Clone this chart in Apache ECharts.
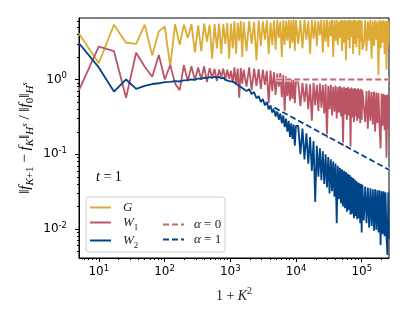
<!DOCTYPE html>
<html>
<head>
<meta charset="utf-8">
<script src="https://cdn.jsdelivr.net/npm/echarts@6/dist/echarts.min.js"></script>
<style>
	html, body { margin: 0; padding: 0; background: #fff; }
	#chart { width: 407px; height: 327px; }
</style>
</head>
<body>
<div id="chart"></div>
<script type="text/javascript">
	// K values (x = 1 + K^2), denser sampling where the curves are dense
	var K = [
		2, 3, 4, 5, 6, 7, 8, 9, 10, 11, 12, 13, 14, 15, 16, 17, 18, 19, 20, 21, 22, 23, 24, 25, 26, 27, 28, 29, 30, 31, 32, 33, 34, 35, 36, 37, 38, 39, 40,
		42, 44, 46, 48, 50, 52, 54, 56, 58, 60, 62, 64, 66, 68, 70, 72, 74, 76, 78, 80, 82, 84, 86, 88, 90, 92, 94, 96, 98, 100,
		104, 108, 112, 116, 120, 124, 128, 132, 136, 140, 144, 148, 152, 156, 160, 164, 168, 172, 176, 180, 184, 188, 192, 196, 200,
		204, 208, 212, 216, 220, 224, 228, 232, 236, 240, 244, 248, 252, 256, 260, 264, 268, 272, 276, 280, 284, 288, 292, 296, 300,
		304, 308, 312, 316, 320,
		328, 336, 344, 352, 360, 368, 376, 384, 392, 400, 408, 416, 424, 432, 440, 448, 456, 464, 472, 480, 488, 496, 504, 509
	];

	var gVals = [
		4.1, 1.65, 5.4, 3.1, 3.0, 5.4, 2.1, 4.4, 5.1, 1.5,
		5.5, 2.9, 5.4, 3.6, 5.5, 2.3, 5.3, 2.4, 5.6, 3.2,
		5.4, 1.9, 5.5, 2.6, 5.6, 2.2, 5.5, 3.0, 5.7, 1.9,
		5.6, 2.6, 6.0, 2.2, 5.7, 3.3, 6.1, 2.0, 5.8,
		2.4, 6.1, 3.0, 5.9, 1.8, 6.2, 2.8, 6.0, 3.4, 6.2,
		2.2, 5.8, 2.9, 6.2, 2.5, 6.3, 3.6, 6.0, 2.0, 6.2,
		2.9, 6.1, 3.3, 6.3, 2.6, 6.2, 3.1, 6.3, 2.4, 6.2,
		3.0, 6.2, 2.6, 6.3, 3.4, 6.1, 2.2, 6.3, 3.5, 6.2,
		2.8, 6.1, 3.9, 6.3, 2.3, 6.2, 3.2, 6.3, 2.7, 6.1,
		3.8, 6.3, 2.0, 6.2, 3.3, 6.3, 2.9, 6.0, 3.6, 6.3,
		2.4, 6.2, 3.1, 6.3, 1.8, 6.1, 3.4, 6.3, 2.6, 6.2,
		3.7, 6.1, 2.2, 6.3, 3.0, 6.2, 2.7, 6.0, 3.5, 6.3,
		2.1, 6.2, 3.2, 6.1, 2.5,
		3.0, 6.2, 2.4, 6.0, 3.3, 6.3, 1.9, 6.1, 2.8, 6.2, 3.4, 6.0, 1.15, 6.3, 2.6, 6.1, 3.1, 6.2, 2.2, 6.0, 1.35, 6.2, 2.9, 5.9
	];

	var w1Vals = [
		0.72, 2.75, 2.4, 0.57, 2.28, 1.48, 1.09, 2.12, 1.0, 1.56,
		0.88, 0.72, 1.55, 0.95, 1.5, 0.98, 1.45, 1.0, 1.5, 0.92,
		1.42, 1.05, 1.38, 0.95, 1.35, 1.08, 1.4, 0.98, 1.35, 1.02,
		1.3, 0.9, 1.45, 0.85, 1.4, 0.57, 1.42, 0.88, 1.35,
		0.8, 1.45, 0.72, 1.4, 0.82, 1.38, 0.75, 1.35, 0.85, 1.3,
		0.48, 1.32, 0.7, 1.25, 0.62, 1.2, 0.8, 1.22, 0.58, 1.15,
		0.37, 1.1, 0.6, 1.05, 0.52, 1.0, 0.55, 0.98, 0.48, 0.95,
		0.92, 0.44, 0.9, 0.5, 0.88, 0.4, 0.86, 0.28, 0.9, 0.45,
		0.85, 0.38, 0.88, 0.42, 0.84, 0.35, 0.86, 0.165, 0.82, 0.4,
		0.85, 0.33, 0.8, 0.37, 0.83, 0.3, 0.79, 0.36, 0.82, 0.32,
		0.78, 0.13, 0.8, 0.34, 0.77, 0.29, 0.79, 0.33, 0.76, 0.125,
		0.78, 0.31, 0.75, 0.27, 0.77, 0.32, 0.74, 0.28, 0.76, 0.3,
		0.73, 0.26, 0.75, 0.29, 0.72,
		0.72, 0.27, 0.7, 0.22, 0.71, 0.28, 0.68, 0.25, 0.69, 0.2, 0.67, 0.26, 0.66, 0.23, 0.12, 0.65, 0.24, 0.64, 0.21, 0.62, 0.09, 0.63, 0.22, 0.6
	];

	var w2Vals = [
		3.05, 1.45, 0.69, 1.0, 0.75, 0.82, 0.87, 0.89, 0.92, 0.93,
		0.95, 0.94, 0.97, 0.98, 1.0, 0.99, 1.03, 1.02, 1.06, 1.04,
		1.08, 1.05, 1.09, 1.06, 1.08, 1.03, 1.06, 0.99, 1.02, 0.95,
		0.97, 0.94, 0.95, 0.88, 0.89, 0.82, 0.84, 0.77, 0.79,
		0.7, 0.74, 0.64, 0.68, 0.56, 0.6, 0.5, 0.55, 0.45, 0.5,
		0.4, 0.45, 0.36, 0.41, 0.32, 0.38, 0.29, 0.35, 0.26, 0.33,
		0.23, 0.3, 0.2, 0.28, 0.17, 0.26, 0.16, 0.25, 0.13, 0.24,
		0.24, 0.1, 0.22, 0.085, 0.19, 0.075, 0.17, 0.06, 0.15, 0.023,
		0.13, 0.05, 0.12, 0.045, 0.11, 0.04, 0.1, 0.036, 0.092, 0.03,
		0.086, 0.032, 0.08, 0.027, 0.075, 0.012, 0.07, 0.025, 0.066, 0.022,
		0.063, 0.02, 0.06, 0.019, 0.058, 0.017, 0.055, 0.018, 0.053, 0.0155,
		0.05, 0.016, 0.048, 0.014, 0.046, 0.015, 0.044, 0.0135, 0.042, 0.014,
		0.041, 0.012, 0.04, 0.009, 0.039,
		0.013, 0.037, 0.012, 0.036, 0.0104, 0.035, 0.011, 0.034, 0.0095, 0.034, 0.0098, 0.033, 0.009, 0.033, 0.0061, 0.032, 0.0085, 0.032, 0.008, 0.031, 0.0078, 0.0045, 0.031, 0.0075
	];

	// reference slopes (dashed)
	var a0X = [5000, 260000];
	var a0Y = [1.0, 1.0];
	var a1X = [4700, 260000];
	var a1Y = [0.42, 0.062];

	var xTicks = [10, 100, 1000, 10000, 100000];
	var yTicks = [0.01, 0.1, 1];
	var xMinor = [6, 7, 8, 9, 20, 30, 40, 50, 60, 70, 80, 90, 200, 300, 400, 500, 600, 700, 800, 900,
		2000, 3000, 4000, 5000, 6000, 7000, 8000, 9000, 20000, 30000, 40000, 50000, 60000, 70000, 80000, 90000, 200000];
	var yMinor = [0.005, 0.006, 0.007, 0.008, 0.009, 0.02, 0.03, 0.04, 0.05, 0.06, 0.07, 0.08, 0.09,
		0.2, 0.3, 0.4, 0.5, 0.6, 0.7, 0.8, 0.9, 2, 3, 4, 5, 6];

	var xMin = 5, xMax = 260000, yMin = 0.0041, yMax = 6.64;

	var xs = K.map(function(k) { return 1 + k * k; });
	function pairs(px, py) {
		return px.map(function(x, i) { return [x, py[i]]; });
	}

	var serif = 'Liberation Serif';
	var sans = 'DejaVu Sans';
	var ink = '#222';
	var powRich = {
		b: { fontFamily: sans, fontSize: 12, color: '#000', lineHeight: 16 },
		s: { fontFamily: sans, fontSize: 8.5, color: '#000', verticalAlign: 'top', lineHeight: 10 }
	};
	function powLabel(v) {
		var e = Math.round(Math.log10(v));
		return '{b|10}{s|' + e + '}';
	}
	// math-like rich text: n roman, i italic, s subscript italic, r subscript roman, u superscript on a subscript, p superscript
	function mathRich(size) {
		var sub = Math.round(size * 0.7);
		return {
			n: { fontFamily: serif, fontSize: size, color: ink, lineHeight: size + 6 },
			i: { fontFamily: serif, fontSize: size, fontStyle: 'italic', color: ink, lineHeight: size + 6 },
			s: { fontFamily: serif, fontSize: sub, fontStyle: 'italic', color: ink, verticalAlign: 'bottom', lineHeight: sub + 1 },
			r: { fontFamily: serif, fontSize: sub, color: ink, verticalAlign: 'bottom', lineHeight: sub + 1 },
			u: { fontFamily: serif, fontSize: sub - 2, fontStyle: 'italic', color: ink, verticalAlign: 'bottom', lineHeight: sub - 1, padding: [0, 0, 6, 0] },
			p: { fontFamily: serif, fontSize: sub, color: ink, verticalAlign: 'top', lineHeight: sub + 1 }
		};
	}
	var legendNames = {
		'G': '{i|G}',
		'W1': '{i|W}{r|1}',
		'W2': '{i|W}{r|2}',
		'a0': '{i|α}{n| = 0}',
		'a1': '{i|α}{n| = 1}'
	};
	var noSymbol = { color: 'rgba(0,0,0,0)', borderColor: 'rgba(0,0,0,0)', borderWidth: 0 };

	var chart = echarts.init(document.getElementById('chart'));
	var option = {
		animation: false,
		backgroundColor: '#fff',
		grid: {
			left: 79, right: 18, top: 18, bottom: 69,
			show: true, borderColor: '#000', borderWidth: 1
		},
		xAxis: [{
			type: 'log', min: xMin, max: xMax,
			name: '{n|1 + }{i|K}{p|2}', nameLocation: 'middle', nameGap: 28,
			nameTextStyle: { rich: mathRich(14) },
			axisLine: { show: true, lineStyle: { color: '#000', width: 1 } },
			axisTick: { show: true, length: 4, customValues: xTicks, lineStyle: { color: '#000' } },
			axisLabel: { customValues: xTicks, margin: 6, formatter: powLabel, rich: powRich },
			splitLine: { show: false }
		}, {
			type: 'log', min: xMin, max: xMax, position: 'bottom',
			axisLine: { show: false },
			axisTick: { show: true, length: 2, customValues: xMinor, lineStyle: { color: '#000' } },
			axisLabel: { show: false },
			splitLine: { show: false }
		}],
		yAxis: [{
			type: 'log', min: yMin, max: yMax,
			axisLine: { show: true, lineStyle: { color: '#000', width: 1 } },
			axisTick: { show: true, length: 4, customValues: yTicks, lineStyle: { color: '#000' } },
			axisLabel: { customValues: yTicks, margin: 12, formatter: powLabel, rich: powRich },
			splitLine: { show: false }
		}, {
			type: 'log', min: yMin, max: yMax, position: 'left',
			axisLine: { show: false },
			axisTick: { show: true, length: 2, customValues: yMinor, lineStyle: { color: '#000' } },
			axisLabel: { show: false },
			splitLine: { show: false }
		}],
		legend: [{
			orient: 'vertical', left: 84, top: 196,
			itemWidth: 21, itemHeight: 10, itemGap: 2,
			data: ['G', 'W1', 'W2'],
			itemStyle: noSymbol,
			formatter: function(n) { return legendNames[n]; },
			textStyle: { rich: mathRich(13), padding: [0, 0, 0, 7] }
		}, {
			orient: 'vertical', left: 157, top: 213,
			itemWidth: 21, itemHeight: 10, itemGap: 2,
			data: ['a0', 'a1'],
			itemStyle: noSymbol,
			formatter: function(n) { return legendNames[n]; },
			textStyle: { rich: mathRich(13), padding: [0, 0, 0, 5] }
		}],
		graphic: [{
			type: 'rect', z: 3,
			shape: { x: 86, y: 197, width: 139, height: 55, r: 3 },
			style: { fill: 'rgba(255,255,255,0.8)', stroke: '#cccccc', lineWidth: 1 }
		}, {
			type: 'text', left: 96, top: 170,
			style: { text: '{i|t}{n| = 1}', rich: mathRich(14) }
		}, {
			type: 'text', x: 25, y: 138, rotation: Math.PI / 2,
			style: {
				text: '{n|‖}{i|f}{s|K}{r|+1}{n| − }{i|f}{s|K}{n|‖}{s|H}{u|s}{n| / ‖}{i|f}{r|0}{n|‖}{s|H}{u|s}',
				rich: mathRich(15), align: 'center', verticalAlign: 'middle'
			}
		}],
		series: [{
			name: 'G', type: 'line', symbol: 'none', data: pairs(xs, gVals),
			lineStyle: { color: '#DDAA33', width: 1.8 }, itemStyle: { color: '#DDAA33' }
		}, {
			name: 'W1', type: 'line', symbol: 'none', data: pairs(xs, w1Vals),
			lineStyle: { color: '#BB5566', width: 1.8 }, itemStyle: { color: '#BB5566' }
		}, {
			name: 'W2', type: 'line', symbol: 'none', data: pairs(xs, w2Vals),
			lineStyle: { color: '#004488', width: 1.8 }, itemStyle: { color: '#004488' }
		}, {
			name: 'a0halo', type: 'line', symbol: 'none', data: pairs(a0X, a0Y), silent: true,
			lineStyle: { color: 'rgba(255,255,255,0.85)', width: 4, type: [6, 3] }
		}, {
			name: 'a0', type: 'line', symbol: 'none', data: pairs(a0X, a0Y),
			lineStyle: { color: '#C46574', width: 1.8, type: [6, 3] }, itemStyle: { color: '#C46574' }
		}, {
			name: 'a1halo', type: 'line', symbol: 'none', data: pairs(a1X, a1Y), silent: true,
			lineStyle: { color: 'rgba(255,255,255,0.85)', width: 4, type: [6, 3] }
		}, {
			name: 'a1', type: 'line', symbol: 'none', data: pairs(a1X, a1Y),
			lineStyle: { color: '#004488', width: 1.8, type: [6, 3] }, itemStyle: { color: '#004488' }
		}]
	};
	chart.setOption(option);
</script>
</body>
</html>
